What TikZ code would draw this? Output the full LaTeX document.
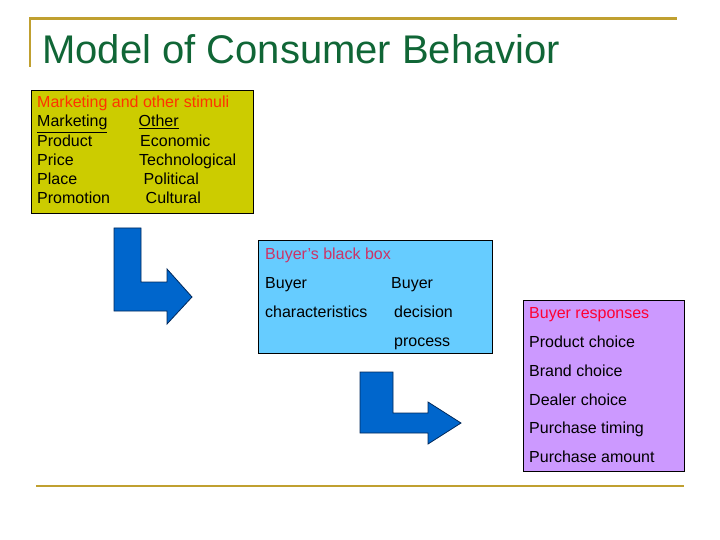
\documentclass[tikz,border=0pt]{standalone}
\usepackage{fontspec}
\setmainfont{Liberation Sans}
\usepackage{tikz}
\definecolor{titlegreen}{RGB}{16,102,54}
\definecolor{rulegold}{RGB}{192,160,48}
\definecolor{stimfill}{RGB}{204,204,0}
\definecolor{stimred}{RGB}{255,51,0}
\definecolor{boxblue}{RGB}{102,204,255}
\definecolor{boxpink}{RGB}{204,51,102}
\definecolor{respfill}{RGB}{204,153,255}
\definecolor{respred}{RGB}{255,0,51}
\definecolor{arrowblue}{RGB}{0,102,204}
\definecolor{arrowline}{RGB}{0,40,90}
\tikzset{
    every node/.style={inner sep=0pt, anchor=base west,
    	font=\fontsize{16}{19}\selectfont}
}
\tikzset{
    box/.style={draw=black, line width=0.9pt, anchor=north west}
}
\tikzset{
	bent/.style={fill=arrowblue, draw=arrowline, line width=0.8pt}
}
\tikzset{
	goldrule/.style={draw=rulegold, line width=2.6pt}
}

\begin{document}
\begin{tikzpicture}[x=1pt,y=-1pt]
  \useasboundingbox (0,0) rectangle (720,540);
  \coordinate (tl) at (30,18.5);
  \coordinate (tr) at (677,18.5);
  \coordinate (tb) at (30,67);
  \coordinate (bl) at (36,486);
  \coordinate (br) at (684,486);
  \draw [goldrule] (tb) -- (tl) -- (tr);
  \draw [goldrule] (bl) -- (br);
  
  \node (title) [font=\fontsize{40}{45}\selectfont, text=titlegreen] at (42,64) {Model of Consumer Behavior};
  
  \node (stimuli) [box, fill=stimfill, minimum width=222pt, minimum height=123pt] at (31,90) {};
  \node (s0) [text=stimred] at (37,108) {Marketing and other stimuli};
  \node (s1) at (37,127) {\underline{Marketing}};
  \node (s2) at (37,146.5) {Product};
  \node (s3) at (37,166) {Price};
  \node (s4) at (37,185) {Place};
  \node (s5) at (37,204) {Promotion};
  \node (o1) at (138.5,127) {\underline{Other}};
  \node (o2) at (140,146.5) {Economic};
  \node (o3) at (139,166) {Technological};
  \node (o4) at (143.5,185) {Political};
  \node (o5) at (145.5,204) {Cultural};
  
  \node (blackbox) [box, fill=boxblue, minimum width=234pt, minimum height=113pt] at (258,240) {};
  \node (b0) [text=boxpink] at (265,259) {Buyer's black box};
  \node (b1) at (265,288) {Buyer};
  \node (b2) at (265,317) {characteristics};
  \node (d1) at (391,288) {Buyer};
  \node (d2) at (394,317) {decision};
  \node (d3) at (394,346) {process};
  
  \node (responses) [box, fill=respfill, minimum width=161pt, minimum height=171pt] at (523,300) {};
  \node (r0) [text=respred] at (529,318.5) {Buyer responses};
  \node (r1) at (529,347.5) {Product choice};
  \node (r2) at (529,376) {Brand choice};
  \node (r3) at (529,405) {Dealer choice};
  \node (r4) at (529,433.5) {Purchase timing};
  \node (r5) at (529,462.5) {Purchase amount};
  
  \draw [bent] (114,228) -- (141,228) -- (141,282) -- (167,282) -- (167,269)
    -- (192,297) -- (167,324) -- (167,311) -- (114,311) -- cycle;
  \draw [bent] (360,372) -- (393,372) -- (393,413) -- (428,413) -- (428,402)
    -- (461,423) -- (428,444) -- (428,433) -- (360,433) -- cycle;
\end{tikzpicture}
\end{document}
